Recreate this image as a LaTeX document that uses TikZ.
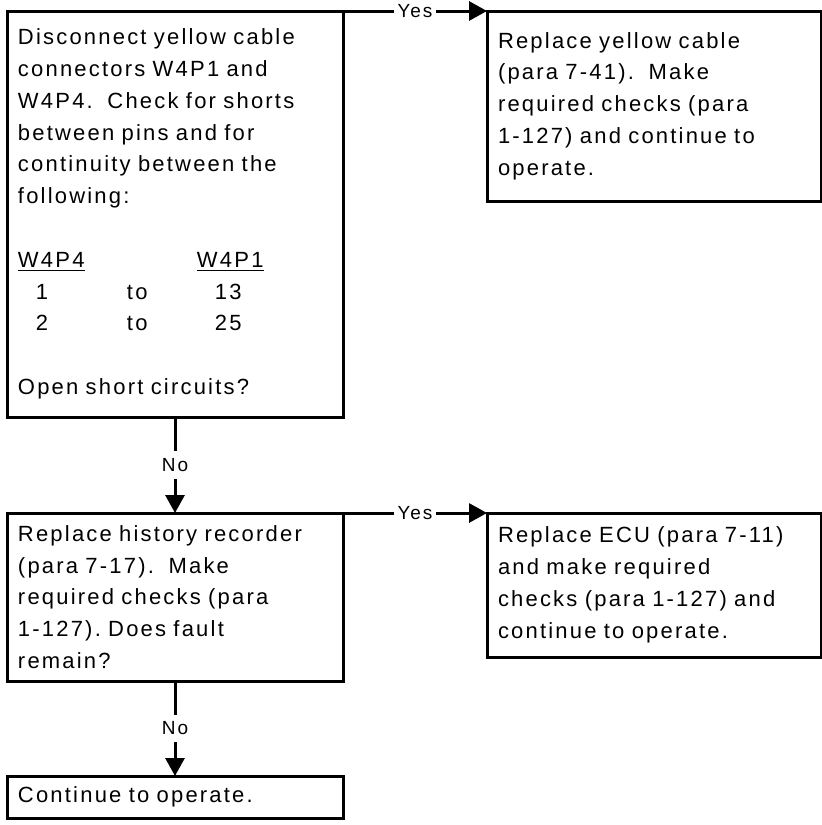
\documentclass[tikz,border=0pt]{standalone}
\usepackage{fontspec}
\setmainfont{Liberation Sans}[LetterSpace=10]
\usetikzlibrary{arrows.meta, positioning}
\frenchspacing

\DeclareRobustCommand\chartfont{%
  \fontsize{11pt}{15.9pt}\selectfont
  \fontdimen2\font=4.4pt\relax}
\tikzset{
  chartbox/.style={draw, line width=1.5pt, anchor=north west, outer sep=0pt,
    inner xsep=5.5pt, inner ysep=0pt, align=left, font=\chartfont},
  leftcol/.style={chartbox, minimum width=168pt, text width=157pt},
  rightcol/.style={chartbox, minimum width=167pt, text width=156pt},
  flowline/.style={line width=1.5pt, -{Triangle[length=9pt,width=9.5pt]}},
  branch/.style={fill=white, inner xsep=2pt, inner ysep=3.6pt,
    font=\fontsize{9.5pt}{11pt}\selectfont}
}
\newcommand\pinrow[2]{\hspace*{9pt}\makebox[45.5pt][l]{#1}\makebox[44pt][l]{to}#2}

\begin{document}
\begin{tikzpicture}[x=0.5pt, y=-0.5pt]
  \useasboundingbox (0,0) rectangle (822,825);

  \node[leftcol, minimum height=203pt] (chk) at (7,11)
    {Disconnect yellow cable\\
     connectors W4P1 and\\
     W4P4.\ \ Check for shorts\\
     between pins and for\\
     continuity between the\\
     following:\\[15.9pt]
     \makebox[89.5pt][l]{\underline{W4P4}}\underline{W4P1}\\
     \pinrow{1}{13}\\
     \pinrow{2}{25}\\[15.9pt]
     Open short circuits?};
  \node[rightcol, minimum height=95pt] (cable) at (487,11)
    {Replace yellow cable\\
     (para 7-41).\ \ Make\\
     required checks (para\\
     1-127) and continue to\\
     operate.};

  \node[leftcol, minimum height=84pt] (rec) at (7,513)
    {Replace history recorder\\
     (para 7-17).\ \ Make\\
     required checks (para\\
     1-127). Does fault\\
     remain?};
  \node[rightcol, minimum height=72pt] (ecu) at (487,513)
    {Replace ECU (para 7-11)\\
     and make required\\
     checks (para 1-127) and\\
     continue to operate.};

  \node[leftcol, minimum height=21pt] (cont) at (7,776)
    {Continue to operate.};

  \draw[flowline] (chk.north east) -- node[branch] {Yes} (cable.north west);
  \draw[flowline] (chk.south) -- node[branch] {No} (rec.north);
  \draw[flowline] (rec.north east) -- node[branch] {Yes} (ecu.north west);
  \draw[flowline] (rec.south) -- node[branch] {No} (cont.north);
\end{tikzpicture}
\end{document}
